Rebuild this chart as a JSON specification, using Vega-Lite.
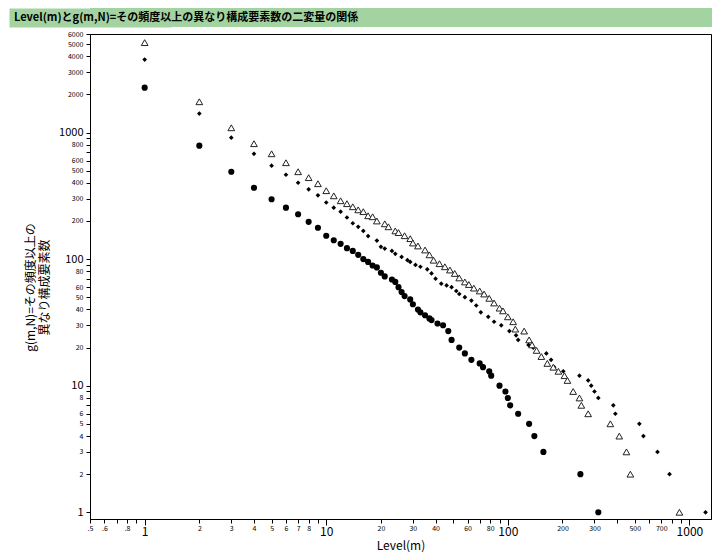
{
  "$schema": "https://vega.github.io/schema/vega-lite/v6.json",
  "background": "white",
  "padding": {"left": 14, "top": 8, "right": 0, "bottom": 0},
  "spacing": 2,
  "config": {
    "font": "Noto Sans CJK JP",
    "view": {"stroke": null},
    "axis": {"labelFont": "Noto Sans CJK JP", "titleFont": "Noto Sans CJK JP", "labelColor": "black", "titleColor": "black", "tickColor": "black", "domainColor": "black", "grid": false}
  },
  "datasets": {
    "pts": [
      {"series": "N1", "m": 1, "g": 2260}, {"series": "N1", "m": 2, "g": 787}, {"series": "N1", "m": 3, "g": 490}, {"series": "N1", "m": 4, "g": 366},
      {"series": "N1", "m": 5, "g": 297}, {"series": "N1", "m": 6, "g": 255}, {"series": "N1", "m": 7, "g": 226}, {"series": "N1", "m": 8, "g": 197},
      {"series": "N1", "m": 9, "g": 177}, {"series": "N1", "m": 10, "g": 153}, {"series": "N1", "m": 11, "g": 141}, {"series": "N1", "m": 12, "g": 132},
      {"series": "N1", "m": 13, "g": 122}, {"series": "N1", "m": 14, "g": 116}, {"series": "N1", "m": 15, "g": 108}, {"series": "N1", "m": 16, "g": 100},
      {"series": "N1", "m": 17, "g": 95}, {"series": "N1", "m": 18, "g": 89}, {"series": "N1", "m": 19, "g": 86}, {"series": "N1", "m": 20, "g": 78},
      {"series": "N1", "m": 21, "g": 73}, {"series": "N1", "m": 23, "g": 69}, {"series": "N1", "m": 24, "g": 66}, {"series": "N1", "m": 25, "g": 60},
      {"series": "N1", "m": 26, "g": 55}, {"series": "N1", "m": 27, "g": 51}, {"series": "N1", "m": 29, "g": 48}, {"series": "N1", "m": 30, "g": 44},
      {"series": "N1", "m": 32, "g": 40}, {"series": "N1", "m": 33, "g": 38}, {"series": "N1", "m": 35, "g": 36}, {"series": "N1", "m": 37, "g": 34},
      {"series": "N1", "m": 38, "g": 33}, {"series": "N1", "m": 41, "g": 31}, {"series": "N1", "m": 44, "g": 30}, {"series": "N1", "m": 47, "g": 27},
      {"series": "N1", "m": 49, "g": 23}, {"series": "N1", "m": 54, "g": 20}, {"series": "N1", "m": 58, "g": 18}, {"series": "N1", "m": 63, "g": 16},
      {"series": "N1", "m": 70, "g": 15}, {"series": "N1", "m": 73, "g": 14}, {"series": "N1", "m": 79, "g": 13}, {"series": "N1", "m": 81, "g": 12},
      {"series": "N1", "m": 90, "g": 10}, {"series": "N1", "m": 97, "g": 9}, {"series": "N1", "m": 100, "g": 8}, {"series": "N1", "m": 103, "g": 7},
      {"series": "N1", "m": 114, "g": 6}, {"series": "N1", "m": 131, "g": 5}, {"series": "N1", "m": 140, "g": 4}, {"series": "N1", "m": 157, "g": 3},
      {"series": "N1", "m": 251, "g": 2}, {"series": "N1", "m": 315, "g": 1},

      {"series": "N2", "m": 1, "g": 3770}, {"series": "N2", "m": 2, "g": 1410}, {"series": "N2", "m": 3, "g": 910}, {"series": "N2", "m": 4, "g": 679},
      {"series": "N2", "m": 5, "g": 547}, {"series": "N2", "m": 6, "g": 464}, {"series": "N2", "m": 7, "g": 401}, {"series": "N2", "m": 8, "g": 356},
      {"series": "N2", "m": 9, "g": 319}, {"series": "N2", "m": 10, "g": 280}, {"series": "N2", "m": 11, "g": 255}, {"series": "N2", "m": 12, "g": 237},
      {"series": "N2", "m": 13, "g": 213}, {"series": "N2", "m": 14, "g": 192}, {"series": "N2", "m": 15, "g": 180}, {"series": "N2", "m": 16, "g": 167},
      {"series": "N2", "m": 17, "g": 152}, {"series": "N2", "m": 19, "g": 140}, {"series": "N2", "m": 20, "g": 125}, {"series": "N2", "m": 21, "g": 121},
      {"series": "N2", "m": 23, "g": 116}, {"series": "N2", "m": 24, "g": 110}, {"series": "N2", "m": 26, "g": 104}, {"series": "N2", "m": 28, "g": 98},
      {"series": "N2", "m": 29, "g": 95}, {"series": "N2", "m": 31, "g": 90}, {"series": "N2", "m": 33, "g": 87}, {"series": "N2", "m": 36, "g": 83},
      {"series": "N2", "m": 38, "g": 77}, {"series": "N2", "m": 40, "g": 70}, {"series": "N2", "m": 43, "g": 64}, {"series": "N2", "m": 46, "g": 62},
      {"series": "N2", "m": 49, "g": 60}, {"series": "N2", "m": 52, "g": 56}, {"series": "N2", "m": 54, "g": 53}, {"series": "N2", "m": 58, "g": 50},
      {"series": "N2", "m": 63, "g": 47}, {"series": "N2", "m": 67, "g": 43}, {"series": "N2", "m": 71, "g": 38}, {"series": "N2", "m": 78, "g": 35},
      {"series": "N2", "m": 84, "g": 32}, {"series": "N2", "m": 92, "g": 30}, {"series": "N2", "m": 102, "g": 27}, {"series": "N2", "m": 111, "g": 25},
      {"series": "N2", "m": 114, "g": 23}, {"series": "N2", "m": 130, "g": 21}, {"series": "N2", "m": 138, "g": 20}, {"series": "N2", "m": 163, "g": 18},
      {"series": "N2", "m": 173, "g": 16}, {"series": "N2", "m": 180, "g": 14}, {"series": "N2", "m": 202, "g": 13}, {"series": "N2", "m": 248, "g": 12},
      {"series": "N2", "m": 277, "g": 11}, {"series": "N2", "m": 288, "g": 10}, {"series": "N2", "m": 300, "g": 9}, {"series": "N2", "m": 315, "g": 8},
      {"series": "N2", "m": 381, "g": 7}, {"series": "N2", "m": 391, "g": 6}, {"series": "N2", "m": 530, "g": 5}, {"series": "N2", "m": 558, "g": 4},
      {"series": "N2", "m": 667, "g": 3}, {"series": "N2", "m": 777, "g": 2}, {"series": "N2", "m": 1227, "g": 1},

      {"series": "N3", "m": 1, "g": 5130}, {"series": "N3", "m": 2, "g": 1750}, {"series": "N3", "m": 3, "g": 1090}, {"series": "N3", "m": 4, "g": 816},
      {"series": "N3", "m": 5, "g": 679}, {"series": "N3", "m": 6, "g": 577}, {"series": "N3", "m": 7, "g": 490}, {"series": "N3", "m": 8, "g": 440},
      {"series": "N3", "m": 9, "g": 394}, {"series": "N3", "m": 10, "g": 347}, {"series": "N3", "m": 11, "g": 316}, {"series": "N3", "m": 12, "g": 289},
      {"series": "N3", "m": 13, "g": 274}, {"series": "N3", "m": 14, "g": 259}, {"series": "N3", "m": 15, "g": 245}, {"series": "N3", "m": 16, "g": 237},
      {"series": "N3", "m": 17, "g": 220}, {"series": "N3", "m": 18, "g": 216}, {"series": "N3", "m": 19, "g": 200}, {"series": "N3", "m": 21, "g": 190},
      {"series": "N3", "m": 22, "g": 180}, {"series": "N3", "m": 24, "g": 167}, {"series": "N3", "m": 25, "g": 162}, {"series": "N3", "m": 27, "g": 153},
      {"series": "N3", "m": 29, "g": 145}, {"series": "N3", "m": 30, "g": 134}, {"series": "N3", "m": 32, "g": 127}, {"series": "N3", "m": 35, "g": 118},
      {"series": "N3", "m": 37, "g": 108}, {"series": "N3", "m": 39, "g": 98}, {"series": "N3", "m": 42, "g": 92}, {"series": "N3", "m": 45, "g": 87},
      {"series": "N3", "m": 48, "g": 82}, {"series": "N3", "m": 51, "g": 77}, {"series": "N3", "m": 54, "g": 71}, {"series": "N3", "m": 58, "g": 66},
      {"series": "N3", "m": 61, "g": 63}, {"series": "N3", "m": 65, "g": 59}, {"series": "N3", "m": 70, "g": 56}, {"series": "N3", "m": 74, "g": 53},
      {"series": "N3", "m": 79, "g": 49}, {"series": "N3", "m": 84, "g": 45}, {"series": "N3", "m": 90, "g": 41}, {"series": "N3", "m": 94, "g": 39},
      {"series": "N3", "m": 100, "g": 35}, {"series": "N3", "m": 107, "g": 32}, {"series": "N3", "m": 110, "g": 28}, {"series": "N3", "m": 123, "g": 27},
      {"series": "N3", "m": 131, "g": 23}, {"series": "N3", "m": 136, "g": 21}, {"series": "N3", "m": 144, "g": 19}, {"series": "N3", "m": 153, "g": 17},
      {"series": "N3", "m": 165, "g": 15}, {"series": "N3", "m": 178, "g": 14}, {"series": "N3", "m": 190, "g": 13}, {"series": "N3", "m": 205, "g": 12},
      {"series": "N3", "m": 213, "g": 11}, {"series": "N3", "m": 229, "g": 9}, {"series": "N3", "m": 248, "g": 8}, {"series": "N3", "m": 254, "g": 7},
      {"series": "N3", "m": 277, "g": 6}, {"series": "N3", "m": 367, "g": 5}, {"series": "N3", "m": 411, "g": 4}, {"series": "N3", "m": 450, "g": 3},
      {"series": "N3", "m": 473, "g": 2}, {"series": "N3", "m": 881, "g": 1}
    ]
  },
  "vconcat": [
    {
      "width": 623,
      "height": 19,
      "view": {"fill": "#a3d3a0", "stroke": null},
      "data": {"values": [{"label": "Level(m)とg(m,N)=その頻度以上の異なり構成要素数の二変量の関係"}]},
      "mark": {"type": "text", "align": "left", "baseline": "middle", "fontWeight": "bold", "fontSize": 11, "dx": -76, "color": "black"},
      "encoding": {
        "text": {"field": "label", "type": "nominal"},
        "x": {"datum": 0, "type": "quantitative", "scale": {"domain": [0, 1]}, "axis": null},
        "y": {"datum": 0.5, "type": "quantitative", "scale": {"domain": [0, 1]},
              "axis": {"domainWidth": 162, "domainColor": "#a3d3a0", "domainCap": "butt", "ticks": false, "labels": false, "title": null, "grid": false}}
      }
    },
    {
      "width": 621,
      "height": 485,
      "view": {"stroke": "black", "strokeWidth": 1},
      "data": {"name": "pts"},
      "encoding": {
        "x": {
          "field": "m", "type": "quantitative",
          "scale": {"type": "log", "domain": [0.5, 1315], "nice": false},
          "axis": {
            "title": "Level(m)", "titleFontSize": 12, "titleFontWeight": "normal", "titlePadding": 3,
            "values": [0.5, 0.6, 0.7, 0.8, 0.9, 1, 2, 3, 4, 5, 6, 7, 8, 9, 10, 20, 30, 40, 50, 60, 70, 80, 90, 100, 200, 300, 400, 500, 600, 700, 800, 900, 1000],
            "labelExpr": "indexof([0.7, 0.9, 9, 50, 70, 90, 400, 600, 800, 900], datum.value) >= 0 ? '' : (datum.value < 1 ? replace(format(datum.value, '.1f'), '0.', '.') : format(datum.value, 'd'))",
            "labelFontSize": {"condition": {"test": "indexof([1, 10, 100, 1000], datum.value) >= 0", "value": 12}, "value": 7},
            "tickSize": {"condition": {"test": "indexof([1, 10, 100, 1000], datum.value) >= 0", "value": 6}, "value": 4},
            "labelPadding": 1, "labelFlush": false, "labelOverlap": false
          }
        },
        "y": {
          "field": "g", "type": "quantitative",
          "scale": {"type": "log", "domain": [0.885, 6000], "nice": false},
          "axis": {
            "title": ["g(m,N)=その頻度以上の", "異なり構成要素数"], "titleFontSize": 12, "titleFontWeight": "normal", "titlePadding": 7, "titleLineHeight": 14, "titleY": 253,
            "values": [1, 2, 3, 4, 5, 6, 7, 8, 9, 10, 20, 30, 40, 50, 60, 70, 80, 90, 100, 200, 300, 400, 500, 600, 700, 800, 900, 1000, 2000, 3000, 4000, 5000, 6000],
            "labelExpr": "indexof([7, 9, 70, 90, 700, 900], datum.value) >= 0 ? '' : format(datum.value, 'd')",
            "labelFontSize": {"condition": {"test": "indexof([1, 10, 100, 1000], datum.value) >= 0", "value": 11}, "value": 7},
            "tickSize": 4, "labelPadding": 3, "labelFlush": false, "labelOverlap": false
          }
        }
      },
      "layer": [
        {
          "transform": [{"filter": "datum.series == 'N1'"}],
          "mark": {"type": "point", "shape": "circle", "filled": true, "color": "black", "size": 38, "opacity": 1}
        },
        {
          "transform": [{"filter": "datum.series == 'N2'"}],
          "mark": {"type": "point", "shape": "diamond", "filled": true, "color": "black", "size": 22, "opacity": 1}
        },
        {
          "transform": [{"filter": "datum.series == 'N3'"}],
          "mark": {"type": "point", "shape": "triangle-up", "filled": false, "fill": "white", "fillOpacity": 1, "stroke": "#222222", "strokeWidth": 1, "size": 45, "opacity": 1}
        }
      ]
    }
  ]
}
